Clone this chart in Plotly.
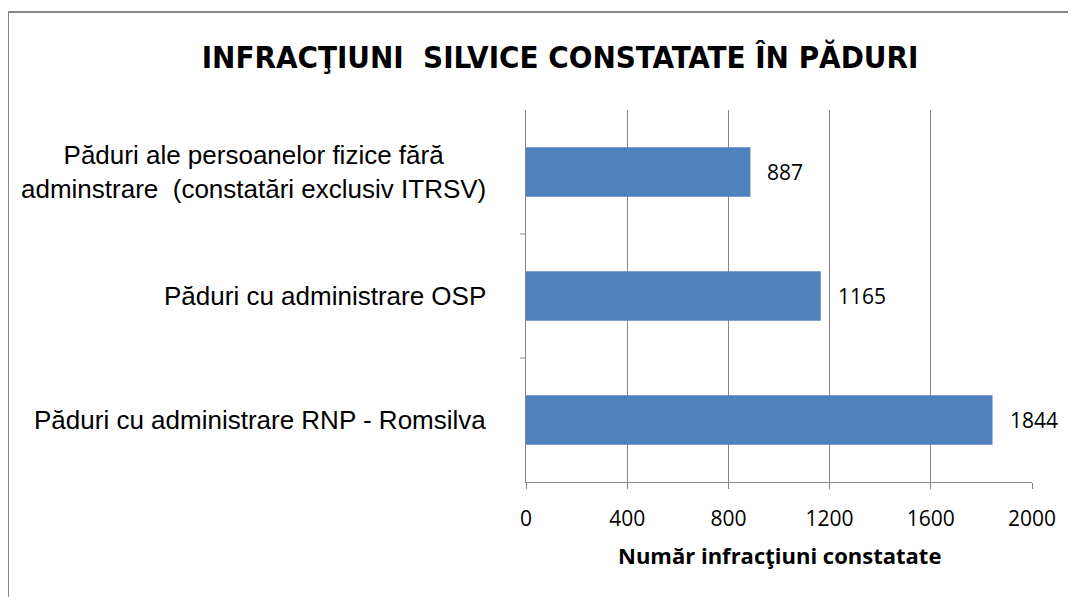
import plotly.graph_objects as go

# categories listed bottom -> top
categories = [
    "Păduri cu administrare RNP - Romsilva",
    "Păduri cu administrare OSP",
    "Păduri ale persoanelor fizice fără<br>adminstrare  (constatări exclusiv ITRSV)",
]
values = [1844, 1165, 887]
x_ticks = [0, 400, 800, 1200, 1600, 2000]

title_text = "INFRACŢIUNI  SILVICE CONSTATATE ÎN PĂDURI"
x_title = "Număr infracţiuni constatate"

# page has an 8px body margin, so figure coords = page coords - 8
W, H = 1076, 597
L, R, T, B = 518, 52, 102, 123
pw, ph = W - L - R, H - T - B

fig = go.Figure()
fig.add_trace(go.Bar(
    x=values, y=categories, orientation="h",
    marker=dict(color="#4F81BD", line=dict(width=0)),
    width=0.4, hoverinfo="x+y",
))

annotations = []
# category labels, centred lines like the original
for cat in categories:
    annotations.append(dict(
        x=-38 / pw, xref="paper", y=cat, yref="y",
        text=cat, showarrow=False, xanchor="right", yanchor="middle",
        align="center", font=dict(family="Liberation Sans, Arial", size=26, color="#000"),
    ))
# value labels
for cat, v in zip(categories, values):
    annotations.append(dict(
        x=v, xref="x", y=cat, yref="y", text=str(v), showarrow=False,
        xanchor="left", yanchor="middle", xshift=15,
        font=dict(family="Open Sans", size=21, color="#000"),
    ))
# axis title
annotations.append(dict(
    x=0.5, xref="paper", y=(H - 547 - B) / ph, yref="paper", text="<b>" + x_title + "</b>",
    showarrow=False, xanchor="center", yanchor="middle",
    font=dict(family="Open Sans", size=22, color="#000"),
))

# outer chart border (partly cut off on the right and bottom)
bx = (0 - L) / pw
by = (H - 4 - B) / ph
shapes = [
    dict(type="line", xref="paper", yref="paper", x0=bx, x1=bx, y0=by, y1=-1,
         line=dict(color="#888888", width=2)),
    dict(type="line", xref="paper", yref="paper", x0=bx, x1=1.5, y0=by, y1=by,
         line=dict(color="#888888", width=2)),
]

fig.update_layout(
    width=W, height=H,
    margin=dict(l=L, r=R, t=T, b=B, pad=0),
    paper_bgcolor="white", plot_bgcolor="white",
    showlegend=False,
    title=dict(text="<b>" + title_text + "</b>", x=552 / W, xref="container", xanchor="center",
               y=1 - 49 / H, yref="container", yanchor="middle",
               font=dict(family="DejaVu Sans Condensed, Open Sans", size=31, color="#000")),
    xaxis=dict(range=[0, 2000], tickvals=x_ticks, showgrid=True, gridcolor="#868686",
               gridwidth=1, showline=True, linecolor="#868686", linewidth=1,
               ticks="outside", ticklen=6, tickcolor="#868686", ticklabelstandoff=12,
               tickfont=dict(family="Open Sans", size=21, color="#000"), zeroline=False),
    yaxis=dict(showticklabels=False, showline=True, linecolor="#868686", linewidth=1,
               ticks="", showgrid=False, zeroline=False),
    annotations=annotations,
    shapes=shapes,
    bargap=0.6,
)

# small tick marks between categories on the y axis
for yb in [0.5, 1.5]:
    fig.add_shape(type="line", xref="paper", yref="y", x0=-6 / pw, x1=0,
                  y0=yb, y1=yb, line=dict(color="#868686", width=1))

fig.write_html("out.html")
